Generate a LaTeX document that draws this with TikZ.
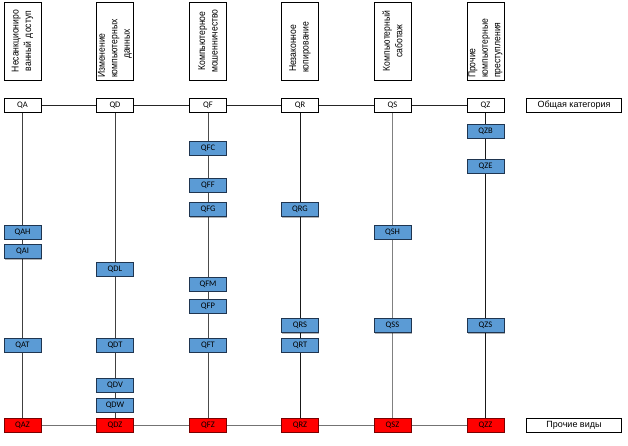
\documentclass[tikz,border=0pt]{standalone}
\usepackage{fontspec}
\setmainfont{Liberation Sans}
\newfontfamily\boxfont{Carlito}
\newfontfamily\narrowfont[FakeStretch=0.86]{Liberation Sans}
\usetikzlibrary{backgrounds,shadows}
\definecolor{qblue}{HTML}{5B9BD5}
\definecolor{qborder}{HTML}{1F3550}
\definecolor{qredb}{HTML}{7A0000}
\begin{document}
\begin{tikzpicture}[x=1pt,y=-1pt,
  cat/.style={draw=black, fill=white, line width=0.7pt, minimum width=37pt, minimum height=14pt, inner sep=0pt, font=\boxfont\fontsize{8.5}{9}\selectfont},
  sub/.style={cat, fill=qblue, draw=qborder, drop shadow={shadow xshift=0.8pt, shadow yshift=-0.8pt, opacity=0.3, fill=black}},
  oth/.style={cat, fill=red, draw=qredb},
  head/.style={draw=black, line width=0.7pt, rotate=90, minimum width=78pt, minimum height=37pt, inner sep=1.5pt, text width=74pt, font=\narrowfont\fontsize{10}{12.5}\selectfont},
  legendbox/.style={draw=black, line width=0.7pt, minimum width=95pt, minimum height=14pt, inner sep=0pt, font=\fontsize{9}{10}\selectfont},
  link/.style={line width=0.8pt, draw=#1},
  link/.default={black!85}]
\useasboundingbox (0,0) rectangle (628,446);

% headers
\node[head, align=center] (h1) at (22.5,41) {Несанкциониро\\ванный доступ};
\node[head, align=left] (h2) at (115,41) {Изменение\\компьютерных\\\hspace*{19pt}данных};
\node[head, align=center] (h3) at (208,41) {Компьютерное\\мошенничество};
\node[head, align=left] (h4) at (300,41) {\hspace*{6pt}Незаконное\\\hspace*{5pt}копирование};
\node[head, align=center] (h5) at (392.5,41) {Компьютерный\\саботаж};
\node[head, align=left] (h6) at (485.5,41) {Прочие\\компьютерные\\преступления};

% top row
\node[cat] (QA) at (22.5,105) {QA};
\node[cat] (QD) at (115,105) {QD};
\node[cat] (QF) at (208,105) {QF};
\node[cat] (QR) at (300,105) {QR};
\node[cat] (QS) at (392.5,105) {QS};
\node[cat] (QZ) at (485.5,105) {QZ};
\node[legendbox] (gen) at (574,105) {Общая категория};

% subcategories
\node[sub] (QAH) at (22.5,232.3) {QAH};
\node[sub] (QAI) at (22.5,251.7) {QAI};
\node[sub] (QAT) at (22.5,345) {QAT};

\node[sub] (QDL) at (115,269.5) {QDL};
\node[sub] (QDT) at (115,345) {QDT};
\node[sub] (QDV) at (115,385.3) {QDV};
\node[sub] (QDW) at (115,405) {QDW};

\node[sub] (QFC) at (208,148.7) {QFC};
\node[sub] (QFF) at (208,185.5) {QFF};
\node[sub] (QFG) at (208,209.7) {QFG};
\node[sub] (QFM) at (208,284) {QFM};
\node[sub] (QFP) at (208,306.3) {QFP};
\node[sub] (QFT) at (208,345) {QFT};

\node[sub] (QRG) at (300,209.7) {QRG};
\node[sub] (QRS) at (300,325.7) {QRS};
\node[sub] (QRT) at (300,345) {QRT};

\node[sub] (QSH) at (392.5,232.3) {QSH};
\node[sub] (QSS) at (392.5,325.7) {QSS};

\node[sub] (QZB) at (485.5,131.5) {QZB};
\node[sub] (QZE) at (485.5,166.2) {QZE};
\node[sub] (QZS) at (485.5,325.7) {QZS};

% bottom row
\node[oth] (QAZ) at (22.5,425) {QAZ};
\node[oth] (QDZ) at (115,425) {QDZ};
\node[oth] (QFZ) at (208,425) {QFZ};
\node[oth] (QRZ) at (300,425) {QRZ};
\node[oth] (QSZ) at (392.5,425) {QSZ};
\node[oth] (QZZ) at (485.5,425) {QZZ};
\node[legendbox] (oth) at (574,425) {Прочие виды};

\begin{scope}[on background layer]
  \fill[white] (0,0) rectangle (628,446);
  \draw[link] (QA) -- (QD) -- (QF) -- (QR) -- (QS) -- (QZ);
  \draw[link=black!55] (QAZ) -- (QDZ) -- (QFZ) -- (QRZ) -- (QSZ) -- (QZZ);
  \draw[link=black!75] (QA) -- (QAZ);
  \draw[link=black!75] (QD) -- (QDZ);
  \draw[link=black!70] (QF) -- (QFZ);
  \draw[link=black!90] (QR) -- (QRZ);
  \draw[link=black!50] (QS) -- (QSZ);
  \draw[link=black!90] (QZ) -- (QZZ);
\end{scope}
\end{tikzpicture}
\end{document}
